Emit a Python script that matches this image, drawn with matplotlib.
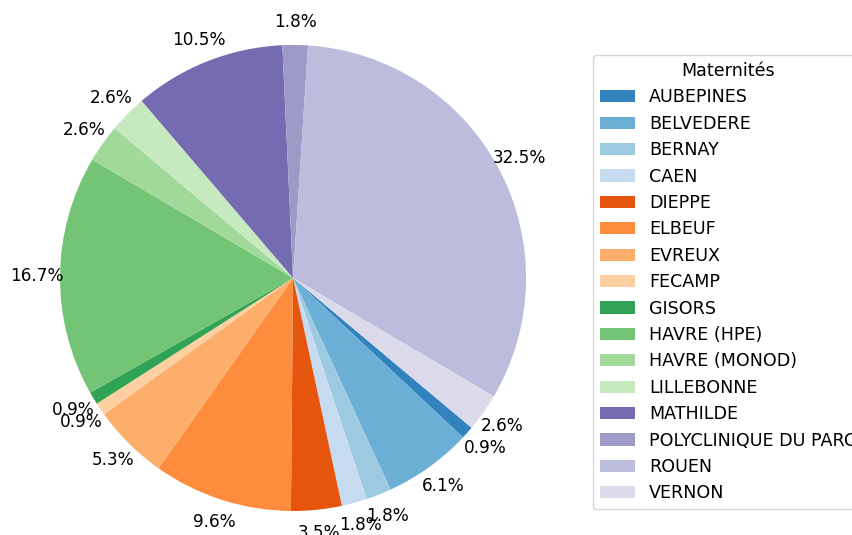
import matplotlib
matplotlib.use('Agg')
import matplotlib.pyplot as plt

maternites = ["AUBEPINES", "BELVEDERE", "BERNAY", "CAEN", "DIEPPE", "ELBEUF",
              "EVREUX", "FECAMP", "GISORS", "HAVRE (HPE)", "HAVRE (MONOD)",
              "LILLEBONNE", "MATHILDE", "POLYCLINIQUE DU PARC", "ROUEN", "VERNON"]
effectifs = [1, 7, 2, 2, 4, 11, 6, 1, 1, 19, 3, 3, 12, 2, 37, 3]

colors = plt.cm.tab20c.colors[:len(effectifs)]

fig = plt.figure(figsize=(8.53, 5.35), dpi=100)
ax = fig.add_axes([0, 0, 1, 1])
wedges, texts, autotexts = ax.pie(effectifs, colors=colors, autopct='%1.1f%%',
                                  pctdistance=1.1, startangle=-40, counterclock=False)
for t in autotexts:
    t.set_fontsize(12.2)
ax.set_xlim(-1.2575, 2.403)
ax.set_ylim(-1.103, 1.193)
ax.set_aspect('equal')
ax.axis('off')

ax.legend(wedges, maternites, title="Maternités", loc="upper left",
          bbox_to_anchor=(593 / 853, 1 - 55 / 535), bbox_transform=fig.transFigure,
          borderaxespad=0, fontsize=12.6, title_fontsize=12.6, labelspacing=0.48)

plt.savefig("out.png", dpi=100)
